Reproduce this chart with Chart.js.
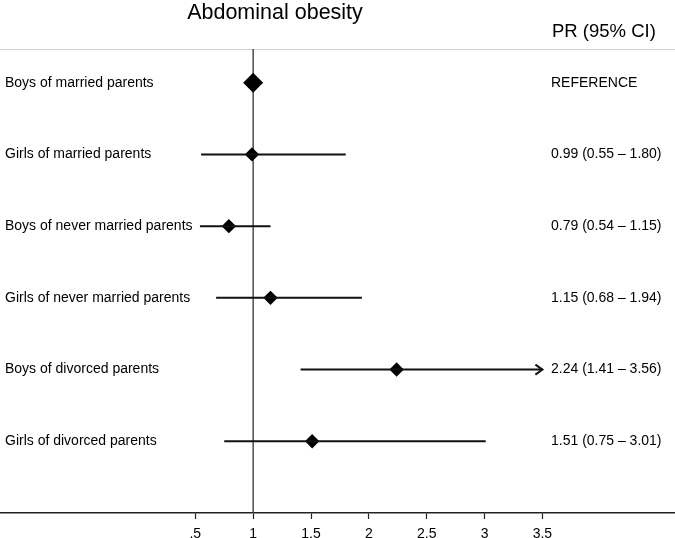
<!DOCTYPE html>
<html>
<head>
<meta charset="utf-8">
<script src="https://cdn.jsdelivr.net/npm/chart.js@4.4.1/dist/chart.umd.min.js"></script>
<style>
  html, body { margin: 0; padding: 0; background: #fff; }
  #wrap { width: 675px; height: 538px; position: relative; }
</style>
</head>
<body>
<div id="wrap"><canvas id="forest"></canvas></div>
<script>
// Forest plot – abdominal obesity, prevalence ratios with 95% CI
const groups = [
  'Boys of married parents',
  'Girls of married parents',
  'Boys of never married parents',
  'Girls of never married parents',
  'Boys of divorced parents',
  'Girls of divorced parents'
];
const pr = [1, 0.99, 0.79, 1.15, 2.24, 1.51];
const ciLow = [null, 0.55, 0.54, 0.68, 1.41, 0.75];
const ciHigh = [null, 1.80, 1.15, 1.94, 3.56, 3.01];
const xTicks = [0.5, 1, 1.5, 2, 2.5, 3, 3.5];
const xCap = 3.5;      // CI bars past this end in an arrow
const refValue = 1;

const rowOf = i => i + 1;
const fmt = v => v.toFixed(2);
const prText = groups.map((g, i) =>
  ciLow[i] == null ? 'REFERENCE' : `${fmt(pr[i])} (${fmt(ciLow[i])} – ${fmt(ciHigh[i])})`);

const FONT = '"Liberation Sans", Arial, Helvetica, sans-serif';
const INK = '#000';

// one line dataset per confidence interval
const ciSets = groups.map((g, i) => ciLow[i] == null ? null : {
  type: 'line',
  data: [{ x: ciLow[i], y: rowOf(i) }, { x: Math.min(ciHigh[i], xCap), y: rowOf(i) }],
  borderColor: '#111',
  borderWidth: 2,
  pointRadius: 0,
  fill: false
}).filter(Boolean);

const pointSet = {
  type: 'scatter',
  data: pr.map((v, i) => ({ x: v, y: rowOf(i) })),
  pointStyle: 'rectRot',
  pointRadius: pr.map((v, i) => ciLow[i] == null ? 10 : 7.2),
  backgroundColor: '#000',
  borderColor: '#000',
  borderWidth: 0
};

const decor = {
  id: 'decor',
  beforeDatasetsDraw(chart) {
    const { ctx, chartArea: a, scales: { x } } = chart;
    ctx.save();
    // top rule
    ctx.strokeStyle = '#d0d0d0';
    ctx.lineWidth = 1.2;
    ctx.beginPath();
    ctx.moveTo(0, a.top + 0.5);
    ctx.lineTo(chart.width, a.top + 0.5);
    ctx.stroke();
    // null line at PR = 1
    const px = x.getPixelForValue(refValue);
    ctx.strokeStyle = '#333';
    ctx.lineWidth = 1.3;
    ctx.beginPath();
    ctx.moveTo(px, a.top);
    ctx.lineTo(px, a.bottom);
    ctx.stroke();
    ctx.restore();
  },
  afterDatasetsDraw(chart) {
    const { ctx, scales: { x, y } } = chart;
    ctx.save();
    // arrowheads for truncated intervals
    ctx.strokeStyle = '#111';
    ctx.lineWidth = 2;
    groups.forEach((g, i) => {
      if (ciHigh[i] == null || ciHigh[i] <= xCap) return;
      const ex = x.getPixelForValue(xCap), ey = y.getPixelForValue(rowOf(i));
      ctx.beginPath();
      ctx.moveTo(ex - 7, ey - 5);
      ctx.lineTo(ex, ey);
      ctx.lineTo(ex - 7, ey + 5);
      ctx.stroke();
    });
    // texts
    ctx.fillStyle = INK;
    ctx.textBaseline = 'middle';
    ctx.textAlign = 'left';
    ctx.font = `14px ${FONT}`;
    groups.forEach((g, i) => ctx.fillText(g, 5, y.getPixelForValue(rowOf(i))));
    prText.forEach((t, i) => ctx.fillText(t, 551, y.getPixelForValue(rowOf(i))));
    ctx.textBaseline = 'alphabetic';
    ctx.font = `18.5px ${FONT}`;
    ctx.fillText('PR (95% CI)', 552, 37);
    ctx.textAlign = 'center';
    ctx.font = `21.5px ${FONT}`;
    ctx.fillText('Abdominal obesity', 275, 19);
    ctx.restore();
  }
};

new Chart(document.getElementById('forest'), {
  data: { datasets: [...ciSets, pointSet] },
  options: {
    responsive: true,
    maintainAspectRatio: false,
    animation: false,
    layout: { autoPadding: false, padding: { top: 49, left: 0, right: 0, bottom: 0 } },
    plugins: { legend: { display: false }, tooltip: { enabled: false } },
    scales: {
      x: {
        type: 'linear',
        position: 'bottom',
        min: -1.188,
        max: 4.646,
        afterBuildTicks: s => { s.ticks = xTicks.map(v => ({ value: v })); },
        afterFit: s => { s.height = 25; s.paddingLeft = 0; s.paddingRight = 0; },
        grid: { drawOnChartArea: false, drawTicks: true, tickLength: 6, tickColor: '#222', tickWidth: 1.2 },
        border: { display: true, color: '#222', width: 1.5 },
        ticks: {
          autoSkip: false,
          maxRotation: 0,
          padding: 7,
          color: INK,
          font: { family: FONT, size: 14 },
          callback: v => (v < 1 ? String(v).replace(/^0/, '') : String(v))
        }
      },
      y: { type: 'linear', reverse: true, min: 0.53, max: 7.0, display: false }
    }
  },
  plugins: [decor]
});
</script>
</body>
</html>
